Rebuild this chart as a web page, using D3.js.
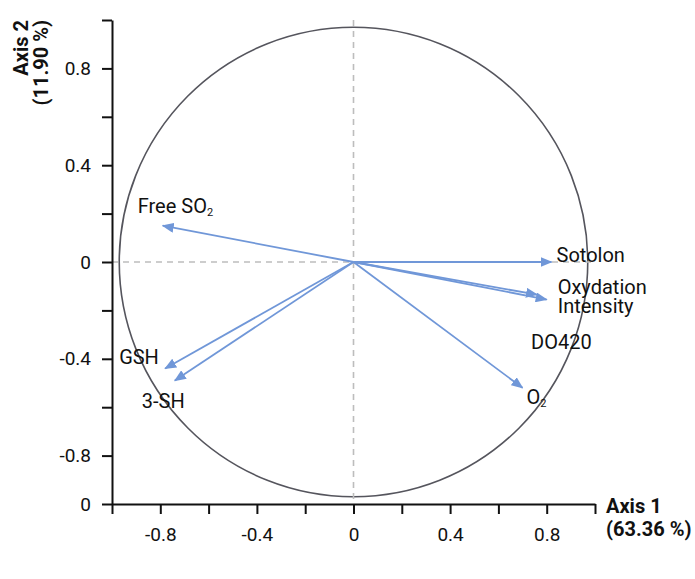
<!DOCTYPE html>
<html>
<head>
<meta charset="utf-8">
<script src="https://cdn.jsdelivr.net/npm/d3@7"></script>
<style>
  body { margin: 0; background: #fff; }
  svg text { font-family: Roboto, "Noto Sans", sans-serif; fill: #111; }
</style>
</head>
<body>
<svg id="chart" width="695" height="579"></svg>
<script>
//Chart values
var variables = ["Free SO", "Sotolon", "Oxydation Intensity", "DO420", "O", "GSH", "3-SH"];
var subscripts = ["2", "", "", "", "2", "", ""];
var axis1 = [-0.79, 0.82, 0.80, 0.76, 0.70, -0.78, -0.74];
var axis2 = [0.15, 0.0, -0.155, -0.135, -0.52, -0.44, -0.49];
var tickValues = [-1, -0.8, -0.6, -0.4, -0.2, 0, 0.2, 0.4, 0.6, 0.8, 1];
var xTickLabels = ["", "-0.8", "", "-0.4", "", "0", "", "0.4", "", "0.8", ""];
var yTickLabels = ["0", "-0.8", "", "-0.4", "", "0", "", "0.4", "", "0.8", ""];
var circleRadius = 0.97;
var axis1Title = ["Axis 1", "(63.36 %)"];
var axis2Title = ["Axis 2", "(11.90 %)"];

var svg = d3.select("#chart");
var arrowColour = "#7097d8";

//Scales
var x = d3.scaleLinear().domain([-1, 1]).range([112, 595]);
var y = d3.scaleLinear().domain([-1, 1]).range([504, 20]);

//Correlation circle
svg.append("ellipse")
    .attr("cx", x(0))
    .attr("cy", y(0))
    .attr("rx", x(circleRadius) - x(0))
    .attr("ry", y(0) - y(circleRadius))
    .attr("fill", "none")
    .attr("stroke", "#55555d")
    .attr("stroke-width", 1.6);

//Dashed zero lines
svg.append("line")
    .attr("x1", x(0)).attr("x2", x(0))
    .attr("y1", y(1)).attr("y2", y(-1))
    .attr("stroke", "#bdbdbd")
    .attr("stroke-width", 1.6)
    .attr("stroke-dasharray", "6,5");
svg.append("line")
    .attr("x1", x(-1)).attr("x2", x(1))
    .attr("y1", y(0)).attr("y2", y(0))
    .attr("stroke", "#bdbdbd")
    .attr("stroke-width", 1.6)
    .attr("stroke-dasharray", "6,5");

//Axes
svg.append("g")
    .attr("transform", "translate(0," + y(-1) + ")")
    .call(d3.axisBottom(x)
        .tickValues(tickValues)
        .tickSize(10)
        .tickSizeOuter(0)
        .tickPadding(14)
        .tickFormat(function(d, i) { return xTickLabels[i]; }));
svg.append("g")
    .attr("transform", "translate(" + x(-1) + ",0)")
    .call(d3.axisLeft(y)
        .tickValues(tickValues)
        .tickSize(10)
        .tickSizeOuter(0)
        .tickPadding(11)
        .tickFormat(function(d, i) { return yTickLabels[i]; }));
svg.selectAll(".domain, .tick line")
    .attr("stroke", "#111")
    .attr("stroke-width", 2);
svg.selectAll(".tick text")
    .attr("font-size", "19px")
    .style("font-family", "Roboto, sans-serif")
    .attr("fill", "#111");

//Axis titles
var t1 = svg.append("text")
    .attr("x", 606)
    .attr("y", 513)
    .attr("font-size", "20px")
    .attr("font-weight", "bold");
t1.selectAll("tspan")
    .data(axis1Title)
    .enter()
    .append("tspan")
    .attr("x", 606)
    .attr("dy", function(d, i) { return i === 0 ? 0 : 23; })
    .text(function(d) { return d; });

var t2 = svg.append("text")
    .attr("transform", "translate(28,20) rotate(-90)")
    .attr("text-anchor", "end")
    .attr("font-size", "20px")
    .attr("font-weight", "bold");
t2.selectAll("tspan")
    .data(axis2Title)
    .enter()
    .append("tspan")
    .attr("x", 0)
    .attr("dy", function(d, i) { return i === 0 ? 0 : 20; })
    .text(function(d) { return d; });

//Arrow head
svg.append("defs").append("marker")
    .attr("id", "head")
    .attr("viewBox", "0 0 12 10")
    .attr("refX", 11)
    .attr("refY", 5)
    .attr("markerWidth", 12)
    .attr("markerHeight", 10)
    .attr("markerUnits", "userSpaceOnUse")
    .attr("orient", "auto")
    .append("path")
    .attr("d", "M0,0 L12,5 L0,10 Z")
    .attr("fill", arrowColour);

var data = variables.map(function(v, i) {
    return { name: v, sub: subscripts[i], a1: axis1[i], a2: axis2[i] };
});

svg.selectAll(".arrow")
    .data(data)
    .enter()
    .append("line")
    .attr("class", "arrow")
    .attr("x1", x(0))
    .attr("y1", y(0))
    .attr("x2", function(d) { return x(d.a1); })
    .attr("y2", function(d) { return y(d.a2); })
    .attr("stroke", arrowColour)
    .attr("stroke-width", 1.8)
    .attr("marker-end", "url(#head)");

//Variable labels, placed relative to the arrow tips
var labelOffsets = {
    "Free SO": [-25, -13],
    "Sotolon": [5, 0],
    "Oxydation Intensity": [11, -6],
    "DO420": [-6, 54],
    "O": [4, 16],
    "GSH": [-46, -4],
    "3-SH": [-33, 27]
};

var labels = svg.selectAll(".label")
    .data(data)
    .enter()
    .append("text")
    .attr("class", "label")
    .attr("font-size", "20px")
    .attr("x", function(d) { return x(d.a1) + labelOffsets[d.name][0]; })
    .attr("y", function(d) { return y(d.a2) + labelOffsets[d.name][1]; });

labels.each(function(d) {
    var el = d3.select(this);
    var words = d.name === "Oxydation Intensity" ? ["Oxydation", "Intensity"] : [d.name];
    words.forEach(function(w, i) {
        el.append("tspan")
            .attr("x", x(d.a1) + labelOffsets[d.name][0])
            .attr("dy", i === 0 ? 0 : 19)
            .text(w);
    });
    if (d.sub) {
        el.append("tspan")
            .attr("font-size", "11px")
            .attr("dy", 3)
            .text(d.sub);
    }
});
</script>
</body>
</html>
